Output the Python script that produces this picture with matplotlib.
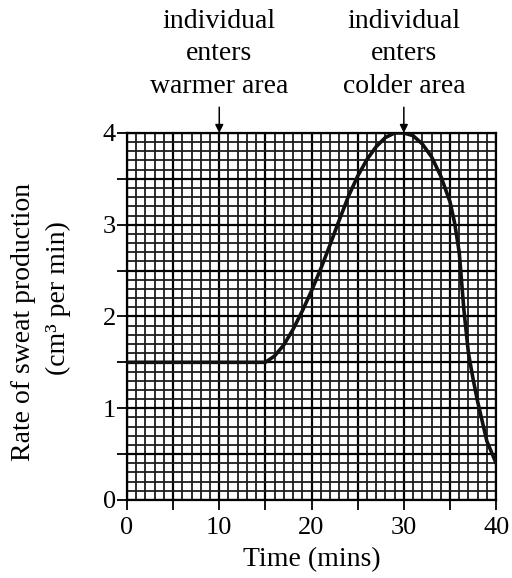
import matplotlib
matplotlib.use("Agg")
import matplotlib.pyplot as plt
from matplotlib.ticker import MultipleLocator, FixedFormatter, FixedLocator

# readings taken off the reference curve
TIME_MIN = [0, 15, 16, 17, 18, 19, 20, 21, 22, 23, 24, 25, 26, 27, 28, 29, 30,
            31, 32, 33, 34, 35, 35.5, 36, 36.5, 37, 37.5, 38, 39, 40]
SWEAT_RATE = [1.50, 1.50, 1.57, 1.69, 1.86, 2.06, 2.28, 2.52, 2.78, 3.05, 3.31,
              3.53, 3.71, 3.85, 3.95, 4.00, 4.00, 3.97, 3.88, 3.74, 3.53, 3.25,
              3.02, 2.70, 2.08, 1.60, 1.32, 1.07, 0.64, 0.40]

X_MAJOR = [0, 5, 10, 15, 20, 25, 30, 35, 40]
X_LABELS = ["0", "", "10", "", "20", "", "30", "", "40"]
Y_MAJOR = [0, 0.5, 1, 1.5, 2, 2.5, 3, 3.5, 4]
Y_LABELS = ["0", "", "1", "", "2", "", "3", "", "4"]
EVENTS = [(10, "individual\nenters\nwarmer area"),
          (30, "individual\nenters\ncolder area")]

plt.rcParams["font.family"] = ["Liberation Serif", "DejaVu Serif"]

fig = plt.figure(figsize=(5.12, 5.78), dpi=100)
ax = fig.add_axes([0.248, 0.135, 0.721, 0.635])

ax.set_xlim(0, 40)
ax.set_ylim(0, 4)

# graph paper grid
ax.xaxis.set_major_locator(FixedLocator(X_MAJOR))
ax.yaxis.set_major_locator(FixedLocator(Y_MAJOR))
ax.xaxis.set_major_formatter(FixedFormatter(X_LABELS))
ax.yaxis.set_major_formatter(FixedFormatter(Y_LABELS))
ax.xaxis.set_minor_locator(MultipleLocator(1))
ax.yaxis.set_minor_locator(MultipleLocator(0.1))
ax.grid(which="minor", color="#1c1c1c", linewidth=1.3)
ax.grid(which="major", color="black", linewidth=1.6)
ax.set_axisbelow(True)

ax.tick_params(which="major", direction="out", length=7, width=1.3,
               labelsize=19, colors="black")
ax.tick_params(axis="x", pad=5)
ax.tick_params(axis="y", pad=1)
ax.tick_params(which="minor", length=0)

for s in ax.spines.values():
    s.set_linewidth(1.6)
    s.set_color("black")

ax.plot(TIME_MIN, SWEAT_RATE, color="#111111", linewidth=2.6,
        solid_capstyle="round", zorder=3)

for t, label in EVENTS:
    ax.annotate("", xy=(t, 4), xytext=(t, 4.28), annotation_clip=False,
                arrowprops=dict(arrowstyle="-|>", color="black", lw=1.1,
                                mutation_scale=12, shrinkA=0, shrinkB=0))
    ax.text(t, 4.37, label, ha="center", va="bottom", fontsize=20,
            linespacing=1.4, clip_on=False)

ax.set_xlabel("Time (mins)", fontsize=20, labelpad=6)
fig.text(24 / 512, 1 - 322 / 578, "Rate of sweat production", rotation=90,
         ha="center", va="center", fontsize=20)
fig.text(58 / 512, 1 - 298 / 578, "(cm³ per min)", rotation=90,
         ha="center", va="center", fontsize=20)

fig.savefig("out.png", dpi=100)
